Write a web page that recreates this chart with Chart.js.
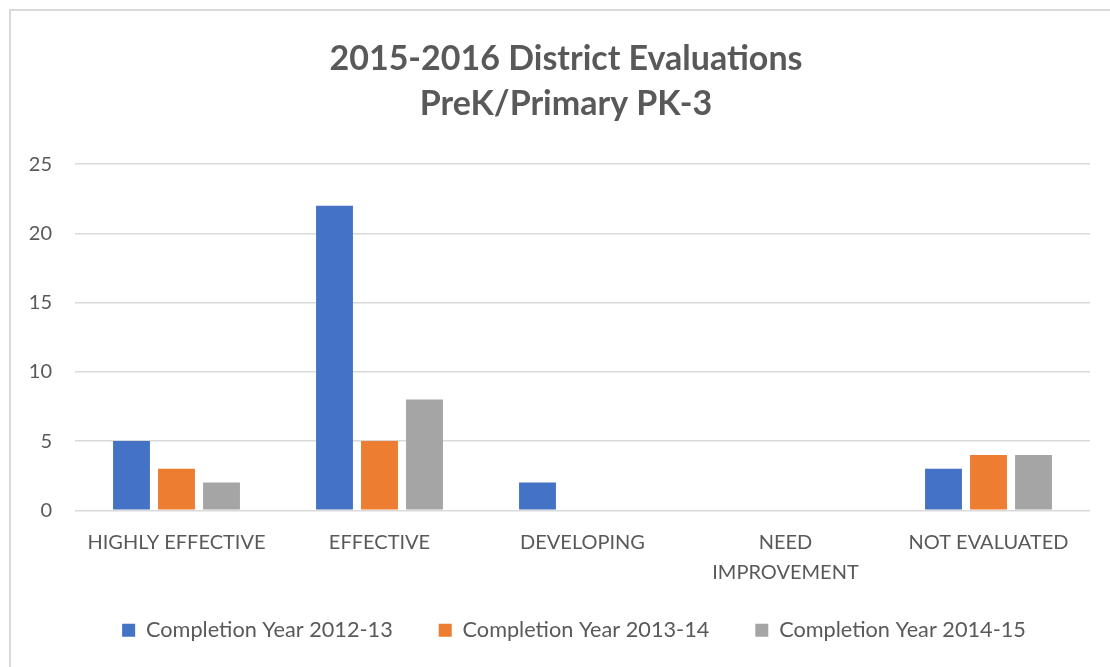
<!DOCTYPE html>
<html>
<head>
<meta charset="utf-8">
<script src="https://cdn.jsdelivr.net/npm/chart.js@4"></script>
<style>
  body { margin: 0; background: #fff; }
  #wrap { position: relative; width: 1110px; height: 667px; overflow: hidden; }
  #frame { position: absolute; left: 9px; top: 9px; width: 1200px; height: 800px; border: 2px solid #d9d9d9; box-sizing: border-box; }
  canvas { position: absolute; left: 0; top: 0; }
</style>
</head>
<body>
<div id="wrap">
  <div id="frame"></div>
  <canvas id="myChart" width="1110" height="667"></canvas>
</div>
<script>
// categories and values
const categories = ['HIGHLY EFFECTIVE', 'EFFECTIVE', 'DEVELOPING', ['NEED', 'IMPROVEMENT'], 'NOT EVALUATED']
const year1213 = [5, 22, 2, 0, 3]
const year1314 = [3, 5, 0, 0, 4]
const year1415 = [2, 8, 0, 0, 4]
const yTicks = [0, 5, 10, 15, 20, 25]

const textColor = '#595959'
const fontFamily = 'Lato, "Open Sans", sans-serif'

// small nudges: title is centred on the whole frame, legend sits a bit higher
const nudge = {
    id: 'nudge',
    afterLayout(chart) {
        chart.titleBlock.left += 14
        chart.legend.top -= 23
        chart.legend.bottom -= 23
        chart.legend.left += 15
        chart.legend.right += 15
    }
}

const grafica = document.querySelector('#myChart')
const config = {
    type: 'bar',
    data: {
        labels: categories,
        datasets: [
            { label: 'Completion Year 2012-13', data: year1213, backgroundColor: '#4472C4' },
            { label: 'Completion Year 2013-14', data: year1314, backgroundColor: '#ED7D31' },
            { label: 'Completion Year 2014-15', data: year1415, backgroundColor: '#A5A5A5' }
        ]
    },
    options: {
        responsive: false,
        animation: false,
        categoryPercentage: 0.665,
        barPercentage: 0.82,
        layout: { padding: { left: 28, right: 20, top: 36, bottom: -7 } },
        plugins: {
            title: {
                display: true,
                text: ['2015-2016 District Evaluations', 'PreK/Primary PK-3'],
                color: textColor,
                font: { family: fontFamily, size: 34, weight: 'bold', lineHeight: 1.34 },
                padding: { top: 0, bottom: 37 }
            },
            legend: {
                position: 'bottom',
                labels: {
                    color: textColor,
                    font: { family: fontFamily, size: 21.7 },
                    boxWidth: 13,
                    boxHeight: 13,
                    padding: 46
                }
            },
            tooltip: { enabled: false }
        },
        scales: {
            x: {
                grid: { display: false },
                border: { display: false },
                ticks: { color: textColor, font: { family: fontFamily, size: 20, lineHeight: 1.5 }, maxRotation: 0, padding: 9 }
            },
            y: {
                min: 0,
                max: 25,
                afterBuildTicks: (axis) => { axis.ticks = yTicks.map(v => ({ value: v })) },
                afterFit: (axis) => { axis.width = 47 },
                grid: { color: '#d9d9d9', lineWidth: 1.5, drawTicks: false },
                border: { display: false },
                ticks: { color: textColor, font: { family: fontFamily, size: 20 }, padding: 23 }
            }
        }
    },
    plugins: [nudge]
}
const myChart = new Chart(grafica, config)
</script>
</body>
</html>
